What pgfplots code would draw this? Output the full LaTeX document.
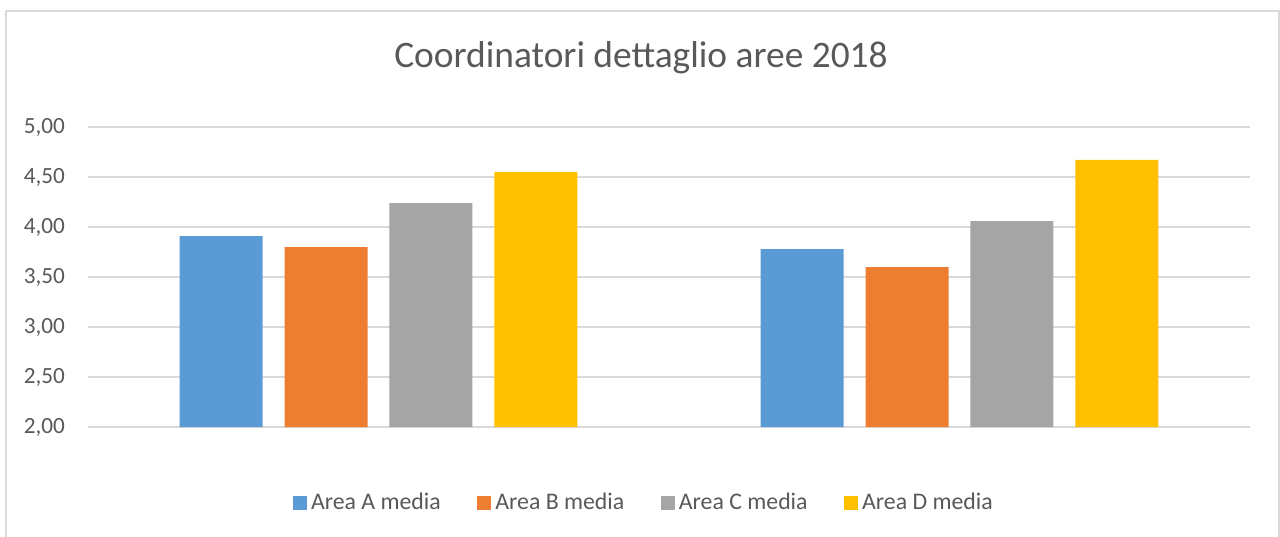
\documentclass[border=0pt]{standalone}
\usepackage{pgfplots}
\pgfplotsset{compat=1.18}
\usepackage{fontspec}
\setmainfont{Carlito}
\definecolor{cA}{HTML}{5B9BD5}
\definecolor{cB}{HTML}{ED7D31}
\definecolor{cC}{HTML}{A5A5A5}
\definecolor{cD}{HTML}{FFC000}
\definecolor{txt}{HTML}{595959}
\definecolor{grd}{HTML}{D9D9D9}
\begin{document}
\begin{tikzpicture}[x=0.5pt,y=0.5pt]
\useasboundingbox (0,0) rectangle (1280,536);
\fill[white] (0,0) rectangle (1280,536);
\draw[grd,line width=1pt] (6,-10) -- (6,524.5) -- (1278.5,524.5) -- (1278.5,-10);
\node[text=txt,font=\fontsize{18.7}{22}\selectfont] at (641,478) {Coordinatori dettaglio aree 2018};
\begin{axis}[
  at={(88pt*0.5,109pt*0.5)}, anchor=south west,
  scale only axis, width=581pt, height=150pt,
  xmin=-0.5, xmax=1.5, ymin=2, ymax=5,
  ytick={2,2.5,...,5},
  xtick=\empty,
  axis line style={draw=none},
  axis x line*=bottom,
  major tick length=0pt,
  ymajorgrids, grid style={grd,line width=1pt},
  y tick label style={text=txt,font=\fontsize{11.6}{13}\selectfont,xshift=-8pt},
  yticklabel style={/pgf/number format/.cd,fixed,fixed zerofill,precision=2,use comma},
  /pgf/number format/assume math mode=true,
  ybar, bar width=0.1429,
  legend style={at={(0.4793,-0.253)},anchor=center,draw=none,fill=none,
    legend columns=4,font=\fontsize{11.9}{13}\selectfont,text=txt,
    /tikz/every even column/.append style={column sep=16.3pt}},
  legend image code/.code={\fill[#1] (-2.5pt,-3.5pt) rectangle (4.5pt,3.5pt);},
]
\addplot[fill=cA,draw=none,bar shift=-0.271] coordinates {(0,3.91) (1,3.78)};
\addplot[fill=cB,draw=none,bar shift=-0.0903] coordinates {(0,3.80) (1,3.60)};
\addplot[fill=cC,draw=none,bar shift=0.0903] coordinates {(0,4.24) (1,4.06)};
\addplot[fill=cD,draw=none,bar shift=0.271] coordinates {(0,4.55) (1,4.67)};
\legend{Area A media,Area B media,Area C media,Area D media}
\end{axis}
\end{tikzpicture}
\end{document}
